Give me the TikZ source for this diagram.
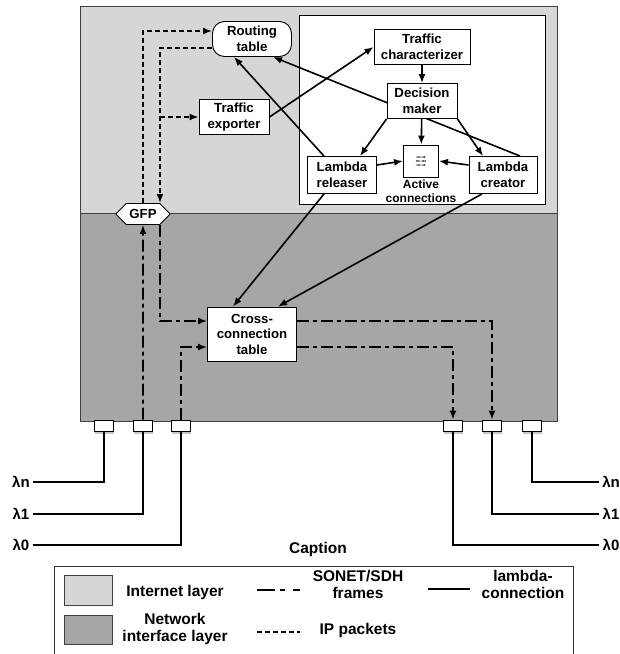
\documentclass[tikz,border=0pt]{standalone}
\usepackage{fontspec}
\setmainfont{Liberation Sans}
\usetikzlibrary{arrows.meta}
\usetikzlibrary{shapes.misc}
\usetikzlibrary{shadows}

\pgfdeclarelayer{regions}
\pgfdeclarelayer{behind}
\pgfsetlayers{regions,behind,main}

\definecolor{inetgray}{gray}{0.84}
\definecolor{nifgray}{gray}{0.65}

\tikzset{
  box/.style={draw,fill=white,line width=0.9pt,align=center,inner sep=2pt},
  wire/.style={line width=1.6pt},
  link/.style={wire,-{Latex[length=9pt,width=7pt]}},
  ip/.style={link,dash pattern=on 5pt off 3pt},
  sonet/.style={link,dash pattern=on 12pt off 4pt on 4pt off 4pt},
  port/.style={draw,fill=white,line width=0.8pt,minimum width=19pt,minimum height=11pt,inner sep=0pt,
    drop shadow={opacity=0.45,shadow xshift=0pt,shadow yshift=-2.5pt}},
  legend/.style={font=\bfseries\fontsize{15.5}{17}\selectfont,align=center},
}

\begin{document}
\begin{tikzpicture}[x=1pt,y=-1pt,font=\bfseries\fontsize{13.2}{15.5}\selectfont]
    \useasboundingbox (0,0) rectangle (620,654);
    \begin{pgfonlayer}{regions}
      \draw[fill=inetgray,draw=black!75] (80,6) rectangle (557,213);
      \draw[fill=nifgray,draw=black!75] (80,213) rectangle (557,421);
      \draw[fill=white,line width=0.9pt] (299,15) rectangle (545,204);
    \end{pgfonlayer}
    % internet layer
    \node[box,rounded corners=12pt,minimum width=79pt,minimum height=35pt] (RT) at (252,39) {Routing\\table};
    \node[box,minimum width=70pt,minimum height=35pt] (TE) at (234,117) {Traffic\\exporter};
    \node[box,minimum width=96pt,minimum height=35pt] (TC) at (422,47) {Traffic\\characterizer};
    \node[box,minimum width=70pt,minimum height=35pt] (DM) at (422,101) {Decision\\maker};
    \node[box,minimum width=69pt,minimum height=37pt] (LR) at (342,175) {Lambda\\releaser};
    \node[box,minimum width=68pt,minimum height=37pt] (LC) at (503,175) {Lambda\\creator};
    \node[box,minimum width=35pt,minimum height=32pt,font=\bfseries\fontsize{3}{4}\selectfont] (AC) at (421,161) {OC-48\\OC-192\\OC-48};
    \node[align=center,font=\bfseries\fontsize{12}{14}\selectfont] (ACL) at (421,191) {Active\\connections};
    \node[box,chamfered rectangle,chamfered rectangle xsep=8pt,minimum width=54pt,minimum height=21pt] (GFP) at (143,214) {GFP};
    % network interface layer
    \node[box,minimum width=89pt,minimum height=54pt] (CC) at (252,334) {Cross-\\connection\\table};
    \foreach \n/\x in {1/104,2/143,3/181,4/453,5/492,6/532}
      \node[port] (P\n) at (\x,425.5) {};

    \draw[ip] (GFP.north) |- ([yshift=8pt]RT.west);
    \draw[ip] ([yshift=-9pt]RT.west) -| ([xshift=17pt]GFP.north);
    \draw[ip] ([xshift=17pt]GFP.north |- TE.west) -- (TE.west);

    \draw[link] (TE.east) -- (TC.west);
    \draw[link] ([xshift=-18pt]LR.north) -- ([xshift=-18pt]RT.south);
    \begin{pgfonlayer}{behind}
      \draw[link] ([xshift=17pt]LC.north) -- ([xshift=21pt]RT.south);
    \end{pgfonlayer}
    \draw[link] (TC) -- (DM);
    \draw[link] (DM.south west) -- ([xshift=18pt]LR.north);
    \draw[link] (DM) -- (AC);
    \draw[link] (DM.south east) -- ([xshift=-20pt]LC.north);
    \draw[link] ([yshift=10pt]LR.east) -- (AC.west);
    \draw[link] ([yshift=10pt]LC.west) -- (AC.east);
    \draw[link] ([xshift=-18pt]LR.south) -- ([xshift=-19pt]CC.north);
    \draw[link] ([xshift=-21pt]LC.south) -- ([xshift=26pt]CC.north);

    \draw[sonet] (P2) -- (GFP);
    \draw[sonet] ([xshift=17pt]GFP.south) |- ([yshift=13pt]CC.west);
    \draw[sonet] (P3) |- ([yshift=-13pt]CC.west);
    \draw[sonet] ([yshift=13pt]CC.east) -| (P5);
    \draw[sonet] ([yshift=-13pt]CC.east) -| (P4);

    % wavelengths
    \begin{scope}[every node/.style={font=\bfseries\fontsize{15}{17}\selectfont,inner sep=3pt}]
      \node (LnL) at (21,482) {λn};
      \node (L1L) at (21,514) {λ1};
      \node (L0L) at (21,545) {λ0};
      \node (LnR) at (611,482) {λn};
      \node (L1R) at (611,514) {λ1};
      \node (L0R) at (611,545) {λ0};
    \end{scope}
    \draw[wire] (LnL) -| (P1);
    \draw[wire] (L1L) -| (P2);
    \draw[wire] (L0L) -| (P3);
    \draw[wire] (LnR) -| (P6);
    \draw[wire] (L1R) -| (P5);
    \draw[wire] (L0R) -| (P4);

    % caption
    \node[legend] (CAP) at (318,549) {Caption};
    \draw[line width=0.9pt,draw=black!80] (54,660) |- (573,566) -- (573,660);
    \draw[fill=inetgray,draw=black!75] (64,575) rectangle (112,605);
    \draw[fill=nifgray,draw=black!75] (64,615) rectangle (112,644);
    \node[legend] (LIL) at (175,592) {Internet layer};
    \node[legend] (LNL) at (175,629) {Network\\interface layer};
    \draw[wire,dash pattern=on 18pt off 5pt on 5pt off 8pt] (257,590) -- (300,590);
    \node[legend] (LSO) at (358,584) {SONET/SDH\\frames};
    \draw[wire] (428,589) -- (470,589);
    \node[legend] (LLC) at (523,584) {lambda-\\connection};
    \draw[ip,-] (257,632) -- (300,632);
    \node[legend] (LIP) at (358,630) {IP packets};
  \end{tikzpicture}
\end{document}
